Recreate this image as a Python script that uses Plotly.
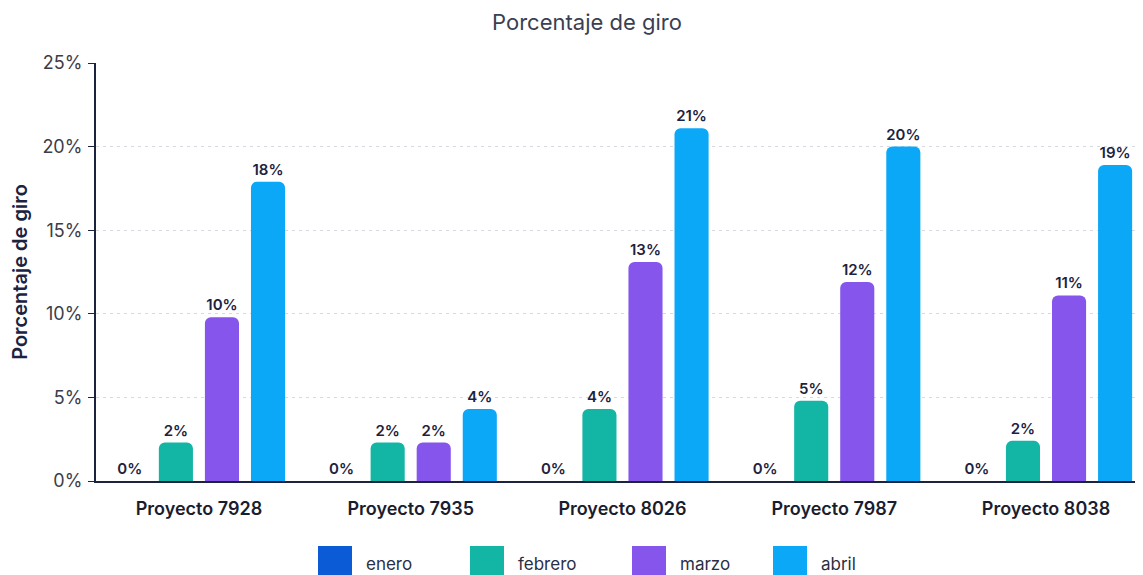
import plotly.graph_objects as go

# datos
proyectos = ["Proyecto 7928", "Proyecto 7935", "Proyecto 8026", "Proyecto 7987", "Proyecto 8038"]
enero = [0, 0, 0, 0, 0]
febrero = [2.3, 2.3, 4.3, 4.8, 2.4]
marzo = [9.8, 2.3, 13.1, 11.9, 11.1]
abril = [17.9, 4.3, 21.1, 20.0, 18.9]
y_ticks = [0, 5, 10, 15, 20, 25]
y_ticktext = ["0%", "5%", "10%", "15%", "20%", "25%"]

series = [
    ("enero", enero, "#0b5ad6"),
    ("febrero", febrero, "#13b5a5"),
    ("marzo", marzo, "#8655ec"),
    ("abril", abril, "#0ba8f7"),
]

NAVY = "#1c2340"
FONT = "Inter, Open Sans, sans-serif"

# la página tiene 8px de margen en el body -> se compensa
OFF = 8
W, H = 1143 - OFF, 575 - OFF
ML, MR, MT = 96 - OFF, 0, 63 - OFF
MB = H - (481 - OFF)
pw, ph = W - ML - MR, H - MT - MB

fig = go.Figure()
for nombre, vals, color in series:
    fig.add_trace(go.Bar(
        x=proyectos,
        y=vals,
        name=nombre,
        marker=dict(color=color, line=dict(width=0)),
        texttemplate="%{y:.0f}%",
        textposition="outside",
        textfont=dict(family=FONT, size=15, color=NAVY, weight=600),
        cliponaxis=False,
        showlegend=False,
    ))

# leyenda manual (cuadros grandes como en la referencia)
legend_pos = [318, 470, 632, 773]
for (nombre, _, color), px in zip(series, legend_pos):
    px -= OFF
    x0 = (px - ML) / pw
    x1 = (px + 34 - ML) / pw
    y0 = (H - MB - (546 - OFF)) / ph
    y1 = (H - MB - (585 - OFF)) / ph
    fig.add_shape(type="rect", xref="paper", yref="paper", x0=x0, x1=x1, y0=y0, y1=y1,
                  fillcolor=color, line=dict(width=0), layer="above")
    fig.add_annotation(xref="paper", yref="paper", x=(px + 46 - ML) / pw, y=(H - MB - (564 - OFF)) / ph,
                       text=nombre, showarrow=False, xanchor="left", yanchor="middle",
                       font=dict(family=FONT, size=17, color="#2a2f45"))

fig.update_layout(
    width=W, height=H,
    margin=dict(l=ML, r=MR, t=MT, b=MB),
    paper_bgcolor="white",
    plot_bgcolor="white",
    barmode="group",
    bargap=0.13,
    bargroupgap=0.26,
    barcornerradius=6,
    title=dict(text="Porcentaje de giro", x=(587 - OFF) / W, xref="container",
               y=1 - (22 - OFF) / H, yanchor="middle",
               font=dict(family=FONT, size=22, color="#3a3f52")),
    font=dict(family=FONT, color=NAVY),
)

fig.update_xaxes(
    range=[-0.486, 4.458],
    automargin=False,
    showline=True, linecolor=NAVY, linewidth=2,
    ticks="", showgrid=False,
    ticklabelstandoff=10,
    tickfont=dict(family=FONT, size=18, color="#1a1d2e", weight=600),
)
fig.update_yaxes(
    range=[0, 25],
    automargin=False,
    tickmode="array",
    tickvals=y_ticks,
    ticktext=y_ticktext,
    showline=True, linecolor=NAVY, linewidth=2,
    ticks="outside", ticklen=6, tickcolor=NAVY,
    showgrid=True, gridcolor="#d6d9e0", griddash="3px,4px", gridwidth=1,
    zeroline=False,
    ticklabelstandoff=2,
    tickfont=dict(family=FONT, size=18, color="#3a3d4a"),
    title=dict(text="Porcentaje de giro", standoff=12,
               font=dict(family=FONT, size=20, color=NAVY, weight=600)),
)

fig.write_html("out.html")
